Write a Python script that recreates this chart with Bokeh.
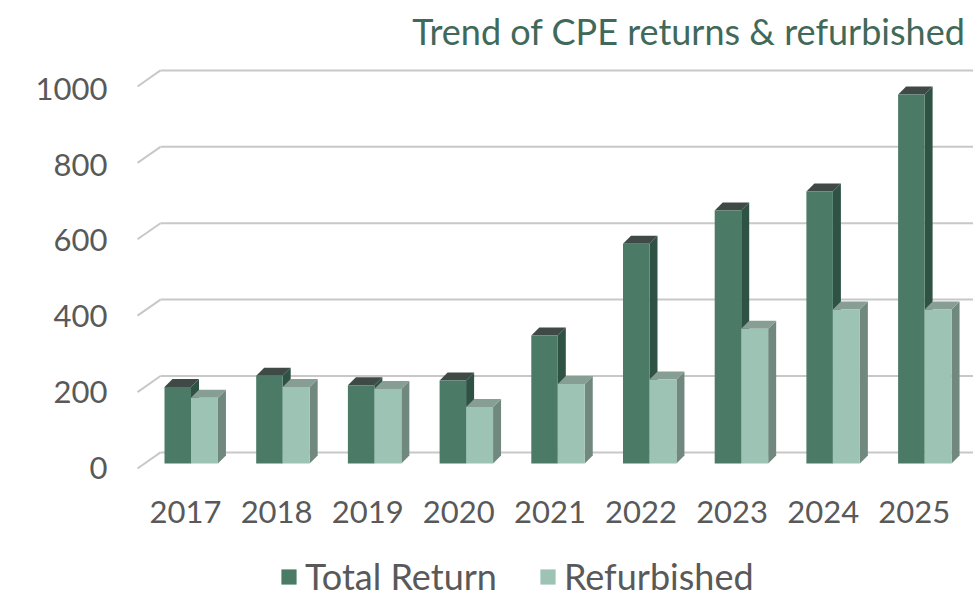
from bokeh.plotting import figure
from bokeh.models import Range1d, LinearAxis, FixedTicker, Legend, LegendItem
from bokeh.core.properties import value
from bokeh.embed import file_html
from bokeh.resources import INLINE

# ---------------- data ----------------
years = [2017, 2018, 2019, 2020, 2021, 2022, 2023, 2024, 2025]
total_return = [200, 230, 205, 217, 335, 575, 662, 712, 966]
refurbished = [172, 200, 195, 148, 208, 220, 353, 403, 403]
y_ticks = [0, 200, 400, 600, 800, 1000]
year_labels = [str(y) for y in years]
title_text = "Trend of CPE returns & refurbished"
series_names = ["Total Return", "Refurbished"]

# ---------------- styling / geometry ----------------
FONT = "Lato"
TXT = "#595959"
C_TOT_FRONT = "#4b7b67"
C_TOT_CAP = "#3f4a46"
C_TOT_SIDE = "#2e5244"
C_REF_FRONT = "#9cc3b3"
C_REF_CAP = "#879e95"
C_REF_SIDE = "#71887f"
C_GRID = "#c8c8c8"

PX_X = 91.7     # px per category
PX_Y = 0.382    # px per value unit
BAR_W_T = 0.289
BAR_W_R = 0.294
DX = 8 / PX_X   # bar depth (x units)
DY = 8 / PX_Y   # bar depth (y units)
WALL_FRONT_X = (137 - 190.5) / PX_X
WALL_BACK_X = (160 - 190.5) / PX_X
WALL_FRONT_DY = -13
WALL_BACK_DY = 29

W, H = 973, 598
FL, FR, FT, FB = 115, 973, 55, 598   # frame in page px
x0 = years[0]
x_start = x0 + (FL - 190.5) / PX_X
x_end = x0 + (FR - 190.5) / PX_X
y_start = (463 - FB) / PX_Y
y_end = (463 - FT) / PX_Y
YEAR_LABEL_Y = (463 - 511) / PX_Y

p = figure(width=W, height=H, output_backend="svg", toolbar_location=None,
           x_range=Range1d(x_start, x_end), y_range=Range1d(y_start, y_end),
           x_axis_location=None, y_axis_location=None,
           min_border_left=FL, min_border_right=0,
           min_border_top=FT, min_border_bottom=0,
           title=title_text)
p.outline_line_color = None
p.grid.grid_line_color = None
p.background_fill_color = "white"
p.border_fill_color = "white"

p.title.align = "right"
p.title.text_font = FONT
p.title.text_font_size = "36px"
p.title.text_font_style = "normal"
p.title.text_color = "#41695a"
p.title.standoff = 6
p.title.offset = 8

# front-plane ranges for axis labels
p.extra_x_ranges = {"front": Range1d(x0 + (FL - 185) / 91.1, x0 + (FR - 185) / 91.1)}
p.extra_y_ranges = {"front": Range1d((467 - FB) / 0.3785, (467 - FT) / 0.3785)}

# ---------------- gridlines (back wall + diagonal stubs) ----------------
gx0, gy0, gx1, gy1 = [], [], [], []
for v in y_ticks:
    gx0.append(x0 + WALL_BACK_X); gy0.append(v + WALL_BACK_DY)
    gx1.append(x_end); gy1.append(v + WALL_BACK_DY)
    gx0.append(x0 + WALL_FRONT_X); gy0.append(v + WALL_FRONT_DY)
    gx1.append(x0 + WALL_BACK_X); gy1.append(v + WALL_BACK_DY)
p.segment(gx0, gy0, gx1, gy1, line_color=C_GRID, line_width=2)

# ---------------- bars ----------------
def faces(lefts, rights, vals):
    caps_x, caps_y, side_x, side_y = [], [], [], []
    for l, r, v in zip(lefts, rights, vals):
        caps_x.append([l, r, r + DX, l + DX])
        caps_y.append([v, v, v + DY, v + DY])
        side_x.append([r, r, r + DX, r + DX])
        side_y.append([0, v, v + DY, DY])
    return caps_x, caps_y, side_x, side_y

tl = [y - BAR_W_T for y in years]
tr = [y for y in years]
rl = [y for y in years]
rr = [y + BAR_W_R for y in years]

cx, cy, sx, sy = faces(tl, tr, total_return)
p.patches(sx, sy, fill_color=C_TOT_SIDE, line_color=None)
p.patches(cx, cy, fill_color=C_TOT_CAP, line_color=None)
r_tot = p.quad(left=tl, right=tr, bottom=0, top=total_return,
               fill_color=C_TOT_FRONT, line_color=None)

cx, cy, sx, sy = faces(rl, rr, refurbished)
p.patches(sx, sy, fill_color=C_REF_SIDE, line_color=None)
p.patches(cx, cy, fill_color=C_REF_CAP, line_color=None)
r_ref = p.quad(left=rl, right=rr, bottom=0, top=refurbished,
               fill_color=C_REF_FRONT, line_color=None)

# ---------------- axes ----------------
yax = LinearAxis(y_range_name="front", ticker=FixedTicker(ticks=y_ticks))
yax.axis_line_color = None
yax.major_tick_line_color = None
yax.minor_tick_line_color = None
yax.major_tick_out = 0
yax.minor_tick_out = 0
yax.major_label_standoff = 8
yax.major_label_text_font = FONT
yax.major_label_text_font_size = "31px"
yax.major_label_text_color = TXT
p.add_layout(yax, "left")

# category labels along the front floor edge
p.text(x=years, y=[YEAR_LABEL_Y] * len(years), text=year_labels, x_range_name="front",
       text_font=value(FONT), text_font_size="31px", text_color=TXT,
       text_align="center", text_baseline="middle")

legend = Legend(items=[LegendItem(label=series_names[0], renderers=[r_tot]),
                       LegendItem(label=series_names[1], renderers=[r_ref])],
                orientation="horizontal", location=(282 - FL - 3, 0))
legend.label_text_font = FONT
legend.label_text_font_size = "36px"
legend.label_text_color = TXT
legend.glyph_width = 19
legend.glyph_height = 19
legend.label_standoff = 7
legend.spacing = 41
legend.padding = 0
legend.margin = 0
legend.border_line_color = None
legend.background_fill_alpha = 0
p.add_layout(legend, "center")

open("out.html", "w").write(file_html(p, INLINE))
